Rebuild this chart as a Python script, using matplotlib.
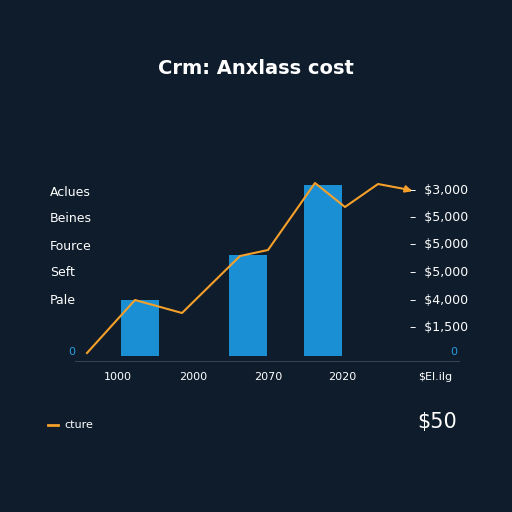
import matplotlib
matplotlib.use("Agg")
import matplotlib.pyplot as plt

bg = "#0f1c2b"
bar_x = [140, 248, 323]
bar_h = [56, 101, 171]
line_x = [87, 135, 182, 240, 268, 315, 345, 378, 410]
line_y = [9, 62, 49, 106, 112, 179, 155, 178, 172]
left_labels = ["Aclues", "Beines", "Fource", "Seft", "Pale"]
right_labels = ["$3,000", "$5,000", "$5,000", "$5,000", "$4,000", "$1,500"]
x_labels = ["1000", "2000", "2070", "2020", "$El.ilg"]
x_pos = [118, 193, 268, 342, 435]

fig = plt.figure(figsize=(5.12, 5.12), dpi=100, facecolor=bg)
ax = fig.add_axes([75/512, 150/512, 385/512, 202/512])
ax.set_facecolor(bg)
ax.set_xlim(75, 460)
ax.set_ylim(0, 202)
ax.axis("off")

ax.bar(bar_x, bar_h, width=38, bottom=6, color="#1a8fd4", zorder=2)
ax.plot(line_x, line_y, color="#f5a02a", lw=1.5, zorder=3)
ax.annotate("", xy=(415, 170), xytext=(405, 173),
            arrowprops=dict(arrowstyle="-|>", color="#f5a02a", lw=1.5))
ax.axhline(0, color="#dfe5ea", lw=1)

fig.text(0.5, 1 - 68/512, "Crm: Anxlass cost", color="white", fontsize=14,
         fontweight="bold", ha="center", va="center")
for i, t in enumerate(left_labels):
    fig.text(50/512, 1 - (192 + i*27)/512, t, color="white", fontsize=9, va="center")
for i, t in enumerate(right_labels):
    fig.text(410/512, 1 - (190 + i*27.5)/512, "–  " + t, color="white", fontsize=9, va="center")
fig.text(68/512, 1 - 352/512, "0", color="#2a9be0", fontsize=8, va="center")
fig.text(450/512, 1 - 352/512, "0", color="#2a9be0", fontsize=8, va="center")
for p, t in zip(x_pos, x_labels):
    fig.text(p/512, 1 - 377/512, t, color="white", fontsize=8, ha="center", va="center")

fig.lines.append(plt.Line2D([48/512, 58/512], [1 - 425/512]*2, color="#f5a02a", lw=2,
                            transform=fig.transFigure))
fig.text(64/512, 1 - 425/512, "cture", color="white", fontsize=8, va="center")
fig.text(437/512, 1 - 422/512, "$50", color="white", fontsize=15, ha="center", va="center")

fig.savefig("out.png", dpi=100, facecolor=bg)
